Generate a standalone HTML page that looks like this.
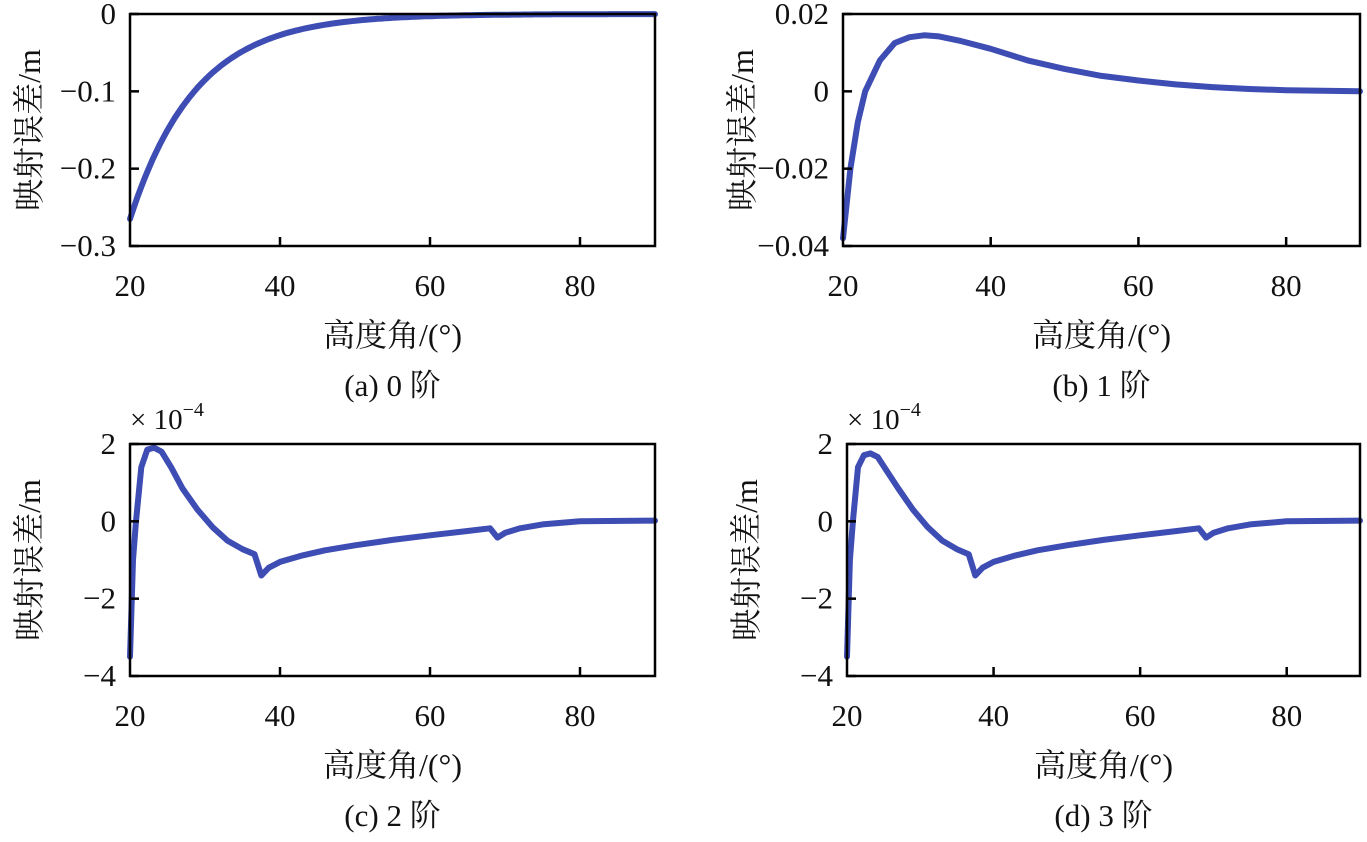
<!DOCTYPE html>
<html><head><meta charset="utf-8"><style>
body{margin:0;background:#fff;width:1367px;height:837px;overflow:hidden}
svg text{font-family:"Liberation Serif","Noto Serif CJK SC",serif;fill:#111}
</style></head><body>
<svg id="s" width="1367" height="837" xmlns="http://www.w3.org/2000/svg"></svg>
<script>
const s=document.getElementById('s');let h='';
function panel(x0,x1,y0,y1,ymin,ymax,yticks,ylabels,pts,cap,mult){
 const X=v=>x0+(v-20)/70*(x1-x0), Y=v=>y1-(v-ymin)/(ymax-ymin)*(y1-y0);
 let d='';pts.forEach((p,i)=>{d+=(i?'L':'M')+X(p[0]).toFixed(1)+','+Y(p[1]).toFixed(1)});
 h+=`<path d="${d}" fill="none" stroke="#3e4db3" stroke-width="6" stroke-linejoin="round" stroke-linecap="round"/>`;
 h+=`<rect x="${x0}" y="${y0}" width="${x1-x0}" height="${y1-y0}" fill="none" stroke="#000" stroke-width="2.5"/>`;
 [40,60,80].forEach(t=>{h+=`<line x1="${X(t)}" x2="${X(t)}" y1="${y1}" y2="${y1-9}" stroke="#000" stroke-width="2.5"/>`});
 [20,40,60,80].forEach(t=>{h+=`<text x="${X(t)}" y="${y1+50}" font-size="31" text-anchor="middle">${t}</text>`});
 yticks.forEach((t,i)=>{h+=`<line x1="${x0}" x2="${x0+9}" y1="${Y(t)}" y2="${Y(t)}" stroke="#000" stroke-width="2.5"/>`;
  h+=`<text x="${x0-14}" y="${Y(t)+10}" font-size="31" text-anchor="end">${ylabels[i]}</text>`});
 const cx=(x0+x1)/2;
 h+=`<text x="${cx}" y="${y1+100}" font-size="32" text-anchor="middle">高度角/(°)</text>`;
 h+=`<text x="${cx}" y="${y1+150}" font-size="31" text-anchor="middle">${cap}</text>`;
 h+=`<text transform="translate(${x0-90},${(y0+y1)/2}) rotate(-90)" font-size="32" text-anchor="middle">映射误差/m</text>`;
 if(mult)h+=`<text x="${x0}" y="${y0-15}" font-size="29">× 10<tspan dy="-13" font-size="20">−4</tspan></text>`;
}
let a=[];for(let x=20;x<=90;x+=0.5)a.push([x,-0.265*Math.exp(-(x-20)/8.8)]);
panel(130,655,14,246,-0.3,0,[0,-0.1,-0.2,-0.3],['0','−0.1','−0.2','−0.3'],a,'(a) 0 阶');
let b=[[20,-0.038],[21,-0.02],[22,-0.008],[23,0],[25,0.008],[27,0.0125],[29,0.014],[31,0.0145],[33,0.0142],[36,0.013],[40,0.011],[45,0.008],[50,0.0058],[55,0.004],[60,0.0028],[65,0.0018],[70,0.0011],[75,0.0006],[80,0.0003],[90,0]];
panel(843,1360,14,246,-0.04,0.02,[0.02,0,-0.02,-0.04],['0.02','0','−0.02','−0.04'],b,'(b) 1 阶');
function cd(p){return [[20,-3.5],[20.4,-1],[20.8,0],[21.5,1.4],[22.3,1.8*p],[23.2,1.85*p],[24.2,1.75*p],[25.5,1.35*p],[27,0.85],[29,0.3],[31,-0.15],[33,-0.5],[35,-0.72],[36.6,-0.85],[37.5,-1.4],[38.5,-1.2],[40,-1.05],[43,-0.88],[46,-0.75],[50,-0.62],[55,-0.48],[60,-0.36],[65,-0.25],[68,-0.18],[69,-0.42],[70,-0.3],[72,-0.18],[75,-0.08],[80,0],[90,0.02]];}
panel(130,655,444,676,-4,2,[2,0,-2,-4],['2','0','−2','−4'],cd(1.03),'(c) 2 阶',1);
panel(847,1360,444,676,-4,2,[2,0,-2,-4],['2','0','−2','−4'],cd(0.95),'(d) 3 阶',1);
s.innerHTML=h;
</script>
</body></html>
